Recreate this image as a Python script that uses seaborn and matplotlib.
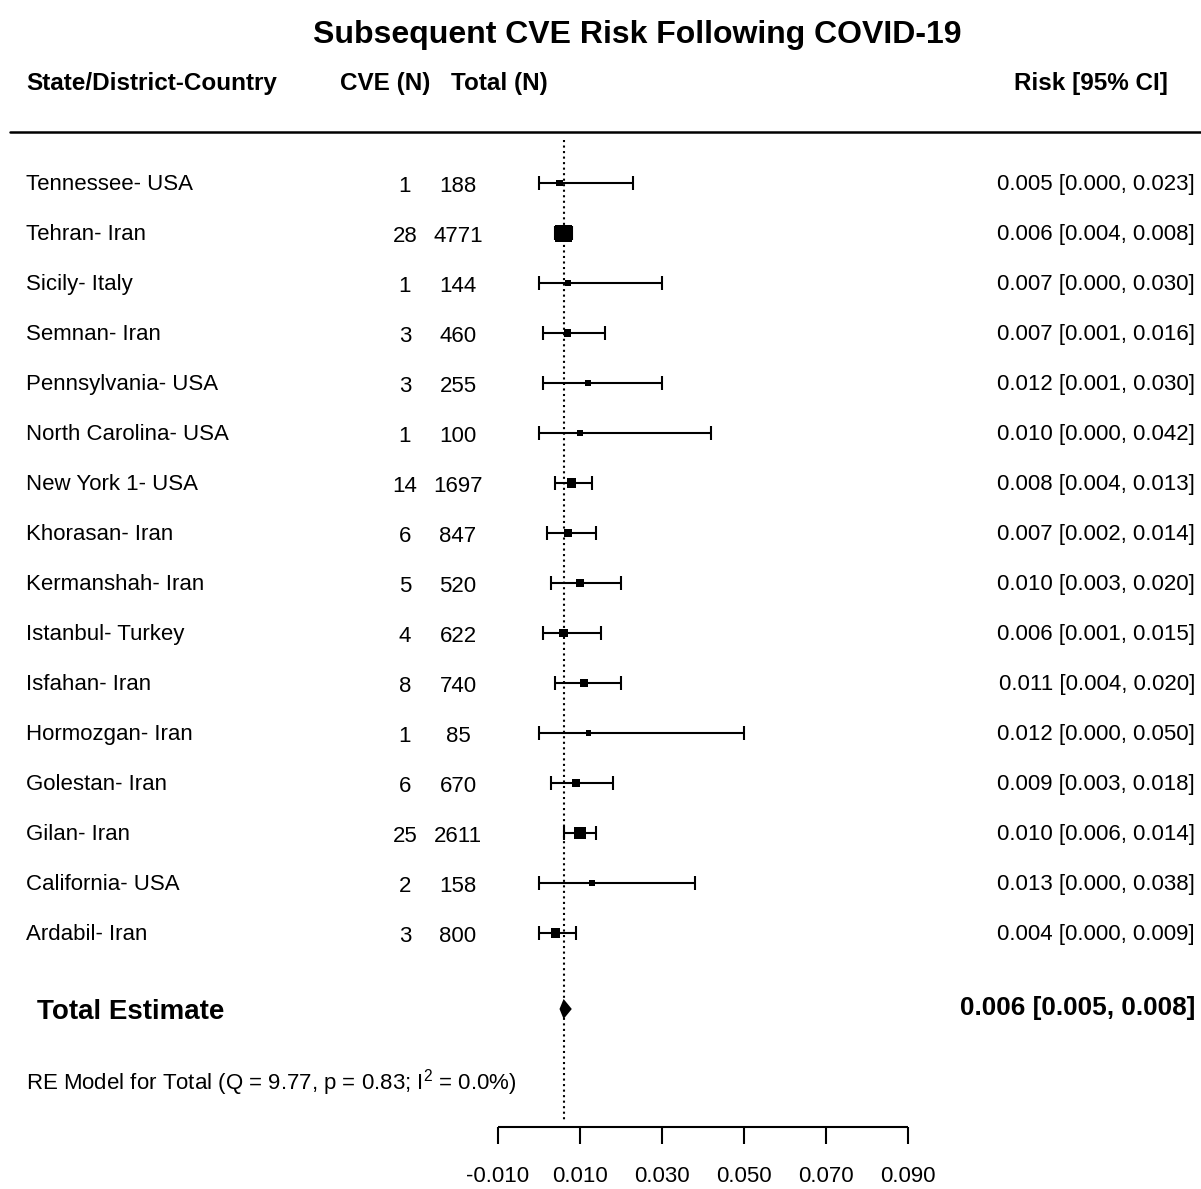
import numpy as np
import pandas as pd
import matplotlib
matplotlib.use("Agg")
import matplotlib.pyplot as plt
import seaborn as sns

# ---------------- data ----------------
regions = ["Tennessee- USA", "Tehran- Iran", "Sicily- Italy", "Semnan- Iran",
           "Pennsylvania- USA", "North Carolina- USA", "New York 1- USA",
           "Khorasan- Iran", "Kermanshah- Iran", "Istanbul- Turkey",
           "Isfahan- Iran", "Hormozgan- Iran", "Golestan- Iran", "Gilan- Iran",
           "California- USA", "Ardabil- Iran"]
cve_n = [1, 28, 1, 3, 3, 1, 14, 6, 5, 4, 8, 1, 6, 25, 2, 3]
total_n = [188, 4771, 144, 460, 255, 100, 1697, 847, 520, 622, 740, 85, 670,
           2611, 158, 800]
risk = [0.005, 0.006, 0.007, 0.007, 0.012, 0.010, 0.008, 0.007, 0.010, 0.006,
        0.011, 0.012, 0.009, 0.010, 0.013, 0.004]
ci_low = [0.000, 0.004, 0.000, 0.001, 0.001, 0.000, 0.004, 0.002, 0.003, 0.001,
          0.004, 0.000, 0.003, 0.006, 0.000, 0.000]
ci_high = [0.023, 0.008, 0.030, 0.016, 0.030, 0.042, 0.013, 0.014, 0.020, 0.015,
           0.020, 0.050, 0.018, 0.014, 0.038, 0.009]
rel_weight = [0.37, 1.00, 0.37, 0.43, 0.37, 0.34, 0.53, 0.49, 0.43, 0.49, 0.45,
              0.31, 0.45, 0.67, 0.33, 0.57]
total_est, total_low, total_high = 0.006, 0.005, 0.008
x_ticks = [-0.010, 0.010, 0.030, 0.050, 0.070, 0.090]
x_tick_labels = ["-0.010", "0.010", "0.030", "0.050", "0.070", "0.090"]
title = "Subsequent CVE Risk Following COVID-19"
model_text = r"RE Model for Total (Q = 9.77, p = 0.83; I$^{\mathrm{2}}$ = 0.0%)"

# ---------------- style ----------------
sns.set_style("white")
plt.rcParams["font.family"] = ["Liberation Sans", "DejaVu Sans"]
plt.rcParams["text.color"] = "black"
plt.rcParams["mathtext.fontset"] = "custom"
plt.rcParams["mathtext.rm"] = "Liberation Sans"
plt.rcParams["mathtext.it"] = "Liberation Sans:italic"
plt.rcParams["mathtext.bf"] = "Liberation Sans:bold"

W, H = 1201, 1189
fig = plt.figure(figsize=(W / 100, H / 100), dpi=100)
ax = fig.add_axes([0, 0, 1, 1])

# pixel mapping: x: 0 at px 539, 4100 px per unit; y: row i at px 183+50*i
px_per_unit = 4100.0
x0_px = 539.0
ax.set_xlim(-x0_px / px_per_unit, (W - x0_px) / px_per_unit)
ax.set_ylim((H - 183) / 50.0, -183 / 50.0)
ax.axis("off")

df = pd.DataFrame({"region": regions, "cve": cve_n, "total": total_n,
                   "risk": risk, "lo": ci_low, "hi": ci_high,
                   "w": rel_weight})
df["row"] = np.arange(len(df))
df["area"] = df["w"] ** 2

lw = 1.5
cap = 0.14
# confidence intervals
ax.hlines(df["row"], df["lo"], df["hi"], color="black", lw=lw)
ax.vlines(df["lo"], df["row"] - cap, df["row"] + cap, color="black", lw=lw)
ax.vlines(df["hi"], df["row"] - cap, df["row"] + cap, color="black", lw=lw)

# squares
max_side_pt = 17 * 0.72
sns.scatterplot(data=df, x="risk", y="row", size="area",
                sizes=(0, max_side_pt ** 2), size_norm=(0, 1),
                marker="s", color="black", linewidth=0, legend=False, ax=ax,
                zorder=3)

# total diamond
y_tot = 16.52
ax.fill([total_low, total_est, total_high, total_est],
        [y_tot, y_tot - 0.2, y_tot, y_tot + 0.2], color="black", lw=0,
        zorder=3)

# reference dotted line
ax.vlines(total_est, -0.86, 18.78, color="black", lw=1.5, linestyles=":")

# x axis
y_axis = 18.88
ax.hlines(y_axis, x_ticks[0], x_ticks[-1], color="black", lw=lw)
ax.vlines(x_ticks, y_axis, y_axis + 0.33, color="black", lw=lw)
for t, lab in zip(x_ticks, x_tick_labels):
    ax.text(t, 19.98, lab, ha="center", va="baseline", fontsize=16)

tr = ax.get_yaxis_transform()
# title and headers
ax.text(0.5308, -2.8, title, transform=tr, ha="center", va="baseline",
        fontsize=23, fontweight="bold")
ax.text(26 / W, -1.86, "State/District-Country", transform=tr, ha="left",
        va="baseline", fontsize=17.5, fontweight="bold")
ax.text(340 / W, -1.86, "CVE (N)", transform=tr, ha="left",
        va="baseline", fontsize=17.5, fontweight="bold")
ax.text(451 / W, -1.86, "Total (N)", transform=tr, ha="left",
        va="baseline", fontsize=17.5, fontweight="bold")
ax.text(1168 / W, -1.86, "Risk [95% CI]", transform=tr, ha="right",
        va="baseline", fontsize=17.5, fontweight="bold")
ax.plot([10 / W, 1.0], [-1.02, -1.02], transform=tr, color="black", lw=1.8)

# rows
for _, r in df.iterrows():
    y = r["row"]
    ax.text(26 / W, y + 0.14, r["region"], transform=tr, ha="left",
            va="baseline", fontsize=16)
    ax.text(405 / W, y + 0.18, f"{int(r['cve'])}", transform=tr, ha="center",
            va="baseline", fontsize=16)
    ax.text(458 / W, y + 0.18, f"{int(r['total'])}", transform=tr,
            ha="center", va="baseline", fontsize=16)
    ax.text(1195 / W, y + 0.14,
            f"{r['risk']:.3f} [{r['lo']:.3f}, {r['hi']:.3f}]",
            transform=tr, ha="right", va="baseline", fontsize=16)

# total row
ax.text(37 / W, 16.72, "Total Estimate", transform=tr, ha="left",
        va="baseline", fontsize=20, fontweight="bold")
ax.text(1195 / W, 16.64,
        f"{total_est:.3f} [{total_low:.3f}, {total_high:.3f}]",
        transform=tr, ha="right", va="baseline", fontsize=18.8,
        fontweight="bold")
ax.text(26 / W, 18.12, model_text, transform=tr, ha="left", va="baseline",
        fontsize=16)

fig.savefig("out.png", dpi=100, facecolor="white")
